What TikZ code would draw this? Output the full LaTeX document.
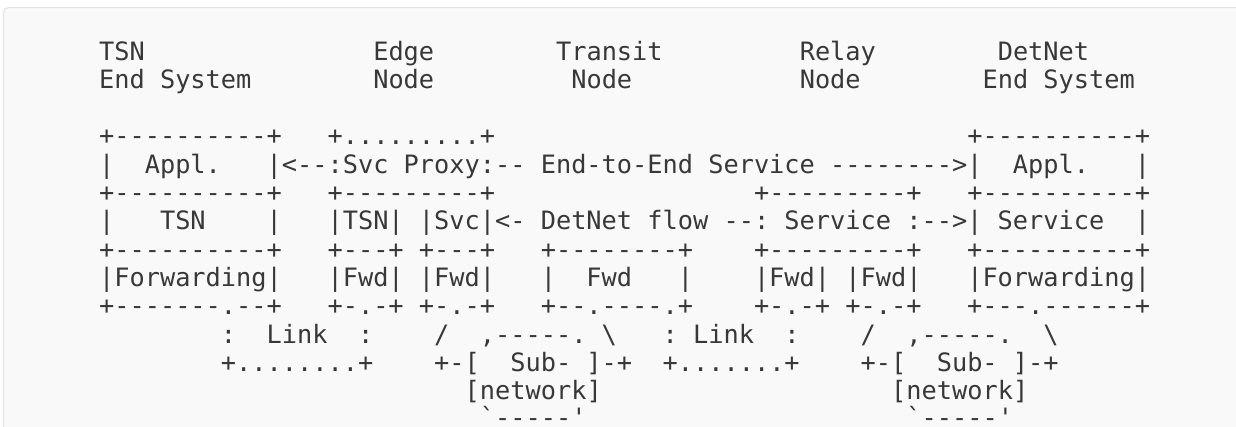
\documentclass[tikz,border=0pt]{standalone}
\usepackage{fontspec}
\setmonofont{DejaVu Sans Mono}
\definecolor{ink}{HTML}{383838}
\definecolor{panelbg}{HTML}{F9F9F9}
\definecolor{panelline}{HTML}{E5E5E5}
\ExplSyntaxOn
\NewDocumentCommand\g{m}{\prg_replicate:nn{#1}{\nobreakspace}}
\ExplSyntaxOff
\newcommand\bs{\textbackslash}
\begin{document}
\begin{tikzpicture}[x=1pt,y=1pt,
  row/.style={anchor=base west, inner sep=0pt, outer sep=0pt, text=ink,
    font=\ttfamily\fontsize{25.3}{28.3}\selectfont}]
\useasboundingbox (0,0) rectangle (1236,-427);
\clip (0,0) rectangle (1236,-427);
\fill[white] (0,0) rectangle (1236,-427);
\draw[panelline, fill=panelbg, line width=1.2pt, rounded corners=5pt] (3.5,-7.5) rectangle (1270,-460);
\def\X{99.1}
\node[row] (r0) at (\X,-60.1) {TSN\g{15}Edge\g{8}Transit\g{9}Relay\g{8}DetNet};
\node[row] (r1) at (\X,-88.4) {End\g{1}System\g{8}Node\g{9}Node\g{11}Node\g{8}End\g{1}System};
\node[row] (r3) at (\X,-145.0) {+----------+\g{3}+.........+\g{31}+----------+};
\node[row] (r4) at (\X,-173.3) {|\g{2}Appl.\g{3}|<--:Svc\g{1}Proxy:--\g{1}End-to-End\g{1}Service\g{1}-------->|\g{2}Appl.\g{3}|};
\node[row] (r5) at (\X,-201.6) {+----------+\g{3}+---------+\g{17}+---------+\g{3}+----------+};
\node[row] (r6) at (\X,-229.9) {|\g{3}TSN\g{4}|\g{3}|TSN|\g{1}|Svc|<-\g{1}DetNet\g{1}flow\g{1}--:\g{1}Service\g{1}:-->|\g{1}Service\g{2}|};
\node[row] (r7) at (\X,-258.2) {+----------+\g{3}+---+\g{1}+---+\g{3}+--------+\g{4}+---------+\g{3}+----------+};
\node[row] (r8) at (\X,-286.5) {|Forwarding|\g{3}|Fwd|\g{1}|Fwd|\g{3}|\g{2}Fwd\g{3}|\g{4}|Fwd|\g{1}|Fwd|\g{3}|Forwarding|};
\node[row] (r9) at (\X,-314.8) {+-------.--+\g{3}+-.-+\g{1}+-.-+\g{3}+--.----.+\g{4}+-.-+\g{1}+-.-+\g{3}+---.------+};
\node[row] (r10) at (\X,-343.1) {\g{8}:\g{2}Link\g{2}:\g{4}/\g{2},-----.\g{1}\bs\g{3}:\g{1}Link\g{2}:\g{4}/\g{2},-----.\g{2}\bs};
\node[row] (r11) at (\X,-371.4) {\g{8}+........+\g{4}+-[\g{2}Sub-\g{1}]-+\g{2}+.......+\g{4}+-[\g{2}Sub-\g{1}]-+};
\node[row] (r12) at (\X,-399.7) {\g{24}[network]\g{19}[network]};
\node[row, text depth=0pt] (r13) at (\X,-426.0) {\g{25}`-----'\g{21}`-----'};
\end{tikzpicture}
\end{document}
